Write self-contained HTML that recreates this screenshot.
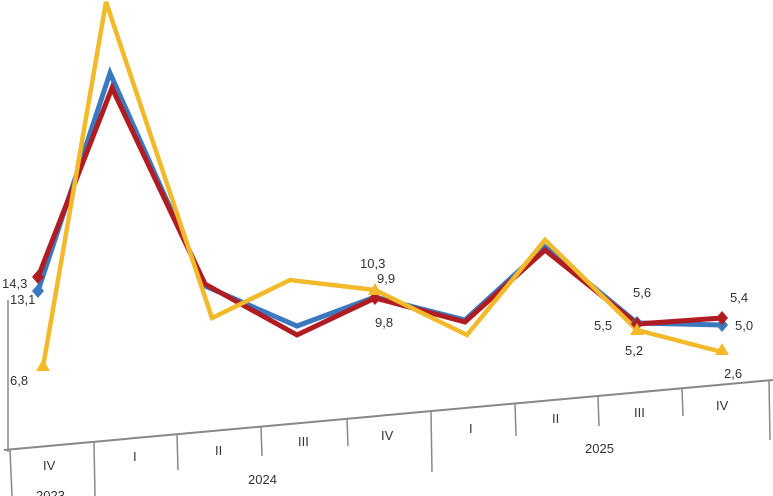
<!DOCTYPE html>
<html><head><meta charset="utf-8"><style>
html,body{margin:0;padding:0;background:#fff;width:773px;height:496px;overflow:hidden}
text{font-family:"Liberation Sans",sans-serif;font-size:13px;fill:#333}
</style></head><body>
<svg width="773" height="496" viewBox="0 0 773 496" xmlns="http://www.w3.org/2000/svg">
<line x1="8" y1="300" x2="8" y2="452" stroke="#888" stroke-width="1.5"/>
<line x1="4" y1="450" x2="773" y2="380" stroke="#888" stroke-width="2"/>
<g stroke="#888" stroke-width="1.5">
<line x1="10" y1="450" x2="12" y2="496"/>
<line x1="94" y1="442" x2="95" y2="496"/>
<line x1="177" y1="434" x2="178" y2="470"/>
<line x1="261" y1="427" x2="262" y2="456"/>
<line x1="347" y1="419" x2="348" y2="446"/>
<line x1="431" y1="411" x2="432" y2="472"/>
<line x1="515" y1="403" x2="516" y2="436"/>
<line x1="598" y1="396" x2="599" y2="426"/>
<line x1="682" y1="388" x2="683" y2="416"/>
<line x1="769" y1="380" x2="770" y2="440"/>
</g>
<g font-size="14">
<text x="43" y="470">IV</text>
<text x="133" y="461">I</text>
<text x="215" y="455">II</text>
<text x="298" y="446">III</text>
<text x="381" y="440">IV</text>
<text x="469" y="433">I</text>
<text x="552" y="423">II</text>
<text x="634" y="417">III</text>
<text x="716" y="410">IV</text>
<text x="248" y="484">2024</text>
<text x="585" y="453">2025</text>
<text x="36" y="500">2023</text>
</g>
<polyline fill="none" stroke="#3a78c0" stroke-width="5" points="38,291 110,73 205,286 297,326 375,297 465,320 545,247 637,323 722,325"/>
<polyline fill="none" stroke="#b01c22" stroke-width="5" points="38,277 112,88 205,284 297,335 375,298 465,322 545,250 637,324 722,318"/>
<polyline fill="none" stroke="#f2b92a" stroke-width="4.5" points="43,367 106,2 212,318 290,280 375,290 467,335 545,240 637,330 722,352"/>
<g fill="#3a78c0"><path d="M38,284 l6,7 -6,7 -6,-7z"/><path d="M722,318 l6,7 -6,7 -6,-7z"/><path d="M637,316 l6,7 -6,7 -6,-7z"/></g>
<g fill="#b01c22"><path d="M38,270 l6,7 -6,7 -6,-7z"/><path d="M722,311 l6,7 -6,7 -6,-7z"/><path d="M637,317 l6,7 -6,7 -6,-7z"/><path d="M375,291 l6,7 -6,7 -6,-7z"/></g>
<g fill="#f2b92a"><path d="M43,359 l7,12 -14,0z"/><path d="M375,283 l7,12 -14,0z"/><path d="M637,323 l7,12 -14,0z"/><path d="M722,343 l7,12 -14,0z"/></g>
<text x="2" y="288">14,3</text>
<text x="10" y="304">13,1</text>
<text x="10" y="385">6,8</text>
<text x="360" y="268">10,3</text>
<text x="377" y="283">9,9</text>
<text x="375" y="327">9,8</text>
<text x="633" y="297">5,6</text>
<text x="594" y="330">5,5</text>
<text x="625" y="355">5,2</text>
<text x="730" y="302">5,4</text>
<text x="735" y="330">5,0</text>
<text x="724" y="378">2,6</text>
</svg>
</body></html>
